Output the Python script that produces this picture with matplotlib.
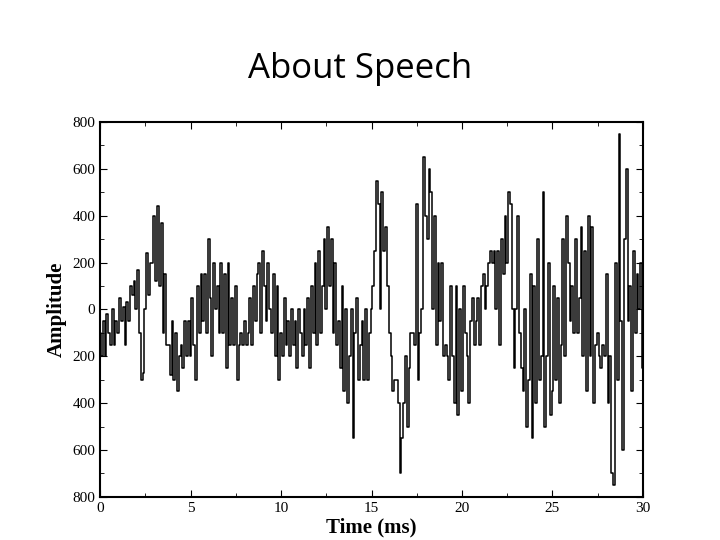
import numpy as np
import matplotlib
matplotlib.use("Agg")
import matplotlib.pyplot as plt
from matplotlib.ticker import MultipleLocator

# speech waveform samples (ms, amplitude)
time_ms = [round(0.1 * i, 1) for i in range(301)]
amplitude = [
    -100, -200, -50, -200, -20, -100, -150, 0, -150, -50,
    -100, 50, -50, 10, -150, 30, -50, 100, 60, 120,
    0, 170, -100, -300, -270, 0, 240, 60, 200, 200,
    400, 120, 440, 100, 370, -100, 150, -150, -150, -280,
    -50, -300, -100, -350, -200, -150, -250, -50, -200, -50,
    -200, 50, -150, -300, 100, -100, 150, -50, 150, -100,
    300, 50, -200, 200, 0, 100, -100, 200, -100, 150,
    -250, 200, -150, 50, -150, 100, -300, -150, -100, -150,
    -50, -150, -100, 50, -150, 100, -50, 150, 200, -100,
    250, 100, -50, 200, 0, -100, 150, -200, 100, -300,
    -100, -200, 50, -150, -50, -200, 0, -150, -50, -250,
    0, -100, -200, 0, -150, 50, -250, 100, -100, 200,
    -150, 250, -100, 100, 300, 0, 350, 100, 300, -100,
    200, -150, -50, -250, 100, -350, 0, -400, -200, 0,
    -550, -100, 50, -300, -150, -50, -300, 0, -300, -100,
    0, 100, 250, 550, 450, 0, 500, 250, 350, 100,
    -100, -200, -350, -300, -300, -400, -700, -550, -400, -200,
    -500, -250, -100, -100, -150, 450, -300, -100, 0, 650,
    400, 300, 600, 500, 0, 400, -150, 200, -50, 200,
    -200, -150, -200, -300, 100, -200, -400, 100, -450, 0,
    -350, 100, -100, -200, -400, -50, 50, -150, -50, 50,
    -150, 100, 150, 0, 100, 200, 250, 200, 250, 0,
    250, -150, 300, 150, 400, 200, 500, 450, 0, -250,
    0, 400, -100, -250, -350, 0, -500, -300, 150, -550,
    100, -400, 300, -300, -200, 500, -500, -200, 200, -450,
    -350, 100, -300, 50, -400, -150, 300, -200, 400, 200,
    -50, 100, -100, 300, -100, 50, 350, -200, 250, -350,
    400, -200, 350, -400, -150, -100, -200, -250, -150, -200,
    150, -400, -200, -700, -750, 200, -300, 750, -50, -600,
    300, 600, -50, 100, -350, 250, -100, 150, 0, 200,
    -250,
]
yticks = [-800, -600, -400, -200, 0, 200, 400, 600, 800]
ytick_labels = ["800", "600", "400", "200", "0", "200", "400", "600", "800"]
xticks = [0, 5, 10, 15, 20, 25, 30]

fig = plt.figure(figsize=(7.2, 5.4), dpi=100)
ax = fig.add_axes([0.139, 0.080, 0.754, 0.694])
ax.plot(time_ms, amplitude, color="black", lw=1.1, drawstyle="steps-mid")
ax.set_xlim(0, 30)
ax.set_ylim(-800, 800)
ax.set_xticks(xticks)
ax.set_yticks(yticks)
ax.set_yticklabels(ytick_labels)
ax.xaxis.set_minor_locator(MultipleLocator(2.5))
ax.yaxis.set_minor_locator(MultipleLocator(100))
ax.tick_params(which="both", direction="in", top=True, right=True, labelsize=11)
ax.tick_params(which="major", length=5)
ax.tick_params(which="minor", length=3)
for lab in ax.get_xticklabels() + ax.get_yticklabels():
    lab.set_family("Liberation Serif")
for s in ax.spines.values():
    s.set_linewidth(1.5)
ax.set_xlabel("Time (ms)", family="Liberation Serif", fontsize=15, fontweight="bold", labelpad=2)
ax.set_ylabel("Amplitude", family="Liberation Serif", fontsize=15, fontweight="bold", labelpad=4)

fig.text(0.5, 0.872, "About Speech", ha="center", va="center", fontsize=25, family="Open Sans")
fig.savefig("out.png", dpi=100)
